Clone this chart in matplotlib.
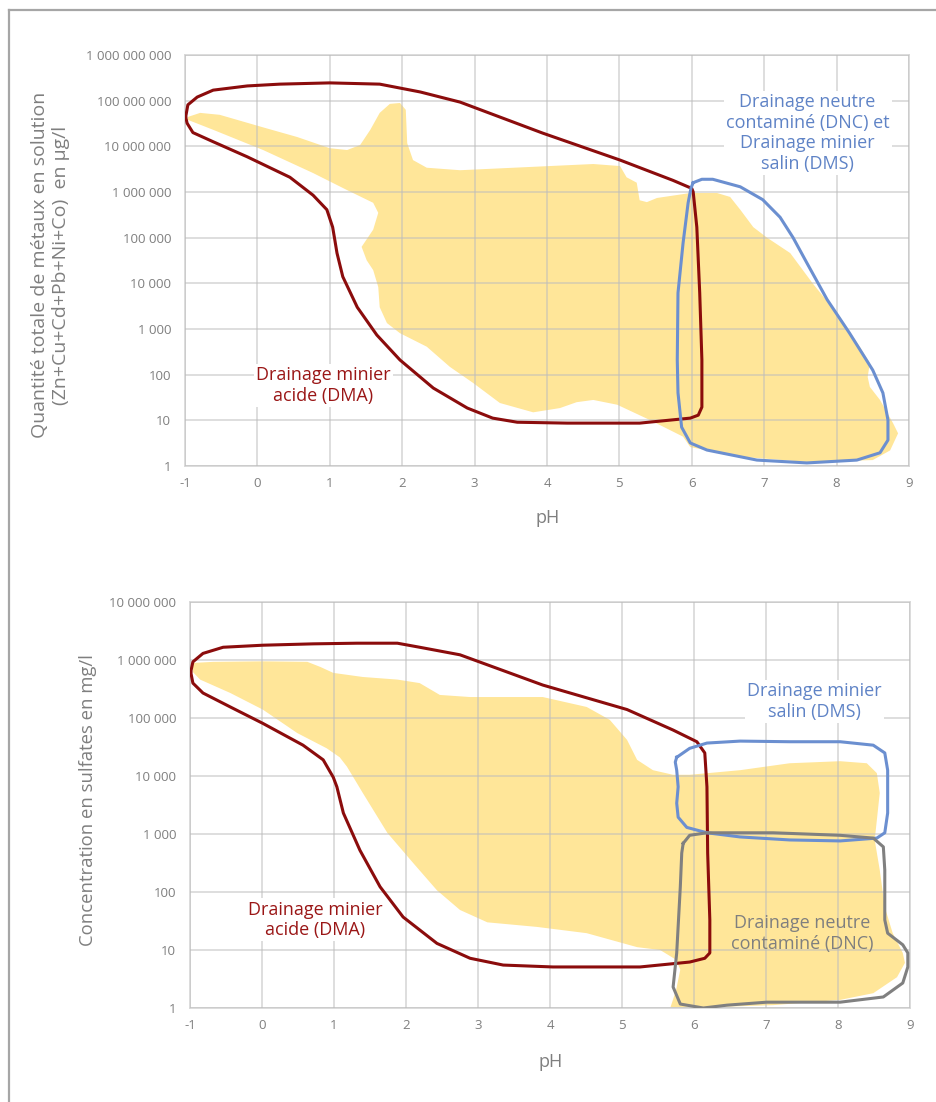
import matplotlib
matplotlib.use("Agg")
import matplotlib.pyplot as plt
from matplotlib.ticker import FixedLocator, FuncFormatter
from matplotlib.lines import Line2D

plt.rcParams['font.family'] = ['Open Sans', 'DejaVu Sans']
plt.rcParams['axes.unicode_minus'] = False

# ---------- panneau du haut : métaux (µg/l) ----------
top_yellow_ph = [-0.96, -0.79, -0.52, 0.08, 0.55, 1.00, 1.24, 1.42, 1.56, 1.69, 1.83, 1.97,
                 2.05, 2.07, 2.15, 2.34, 2.80, 4.64, 5.01, 5.10, 5.24, 5.28, 5.38, 5.52,
                 5.98, 6.35, 6.53, 6.67, 6.85, 7.04, 7.36, 7.67, 8.05, 8.32, 8.46, 8.43,
                 8.46, 8.60, 8.78, 8.85, 8.74, 8.50, 7.59, 6.67, 5.98, 5.88, 5.42, 4.97,
                 4.64, 4.41, 4.18, 3.81, 3.35, 2.98, 2.66, 2.34, 1.97, 1.79, 1.69, 1.67,
                 1.60, 1.51, 1.44, 1.60, 1.67, 1.60, 1.24, 0.77, 0.08, -0.61, -0.96]
top_yellow_val = [4.4e7, 5.4e7, 4.9e7, 2.6e7, 1.6e7, 9.1e6, 8.3e6, 1.07e7, 2.3e7, 5.4e7, 8.5e7, 8.9e7,
                  6.3e7, 1.17e7, 5.0e6, 3.4e6, 3.0e6, 4.1e6, 3.7e6, 2.1e6, 1.6e6, 6.6e5, 6.0e5, 7.4e5,
                  9.5e5, 9.5e5, 7.8e5, 4.1e5, 1.7e5, 1.0e5, 4.6e4, 1.0e4, 1.8e3, 410, 180, 89,
                  54, 28, 8.7, 5.2, 2.2, 1.35, 1.23, 1.6, 2.6, 4.4, 10.2, 22,
                  28, 25, 18.6, 15, 24, 66, 148, 410, 810, 1.35e3, 3.0e3, 8.3e3,
                  1.95e4, 3.2e4, 6.3e4, 1.5e5, 3.5e5, 5.8e5, 1.1e6, 2.6e6, 8.3e6, 2.3e7, 3.8e7]

top_dma_ph = [-0.99, -0.96, -0.83, -0.61, -0.14, 0.31, 1.00, 1.69, 2.25, 2.80, 3.94, 5.01,
              5.74, 6.00, 6.02, 6.07, 6.11, 6.14, 6.14, 6.09, 5.98, 5.28, 4.28, 3.59,
              3.25, 2.90, 2.43, 1.97, 1.65, 1.38, 1.18, 1.10, 1.07, 1.04, 0.96, 0.77,
              0.45, -0.14, -0.61, -0.89, -0.97]
top_dma_val = [4.4e7, 8.1e7, 1.2e8, 1.7e8, 2.1e8, 2.3e8, 2.45e8, 2.3e8, 1.55e8, 9.3e7, 1.95e7, 5.0e6,
               1.8e6, 1.2e6, 1.0e6, 1.7e5, 6.2e3, 210, 19.5, 13, 11.2, 8.7, 8.7, 9.1,
               11.2, 18.6, 51, 210, 740, 3.0e3, 1.4e4, 4.6e4, 8.9e4, 1.7e5, 4.1e5, 8.5e5,
               2.1e6, 5.9e6, 1.26e7, 2.0e7, 3.2e7]

top_dnc_ph = [6.02, 6.14, 6.29, 6.67, 6.98, 7.22, 7.40, 7.59, 7.87, 8.18, 8.50, 8.64,
              8.71, 8.71, 8.60, 8.28, 7.59, 6.90, 6.21, 5.98, 5.86, 5.81, 5.80, 5.81,
              5.88, 5.95, 5.99]
top_dnc_val = [1.6e6, 1.9e6, 1.9e6, 1.3e6, 6.8e5, 2.8e5, 1.0e5, 2.8e4, 4.4e3, 810, 126, 40,
               10.2, 3.7, 1.95, 1.35, 1.17, 1.35, 2.24, 3.2, 7.1, 40, 210, 6.2e3,
               7.6e4, 5.8e5, 1.23e6]

# ---------- panneau du bas : sulfates (mg/l) ----------
bot_yellow_ph = [-0.96, -0.68, 0.01, 0.63, 0.81, 0.99, 1.40, 1.88, 2.19, 2.47, 2.89, 3.90,
                 4.51, 4.83, 5.07, 5.21, 5.43, 5.71, 5.94, 6.64, 7.33, 8.03, 8.40, 8.54,
                 8.58, 8.54, 8.51, 8.58, 8.65, 8.76, 8.90, 8.93, 8.82, 8.49, 8.03, 7.10,
                 6.40, 6.00, 5.67, 5.75, 5.81, 5.75, 5.53, 5.21, 4.51, 3.82, 3.13, 2.75,
                 2.43, 2.10, 1.74, 1.40, 1.18, 1.08, 0.90, 0.49, 0.01, -0.44, -0.86, -0.96]
bot_yellow_val = [8.9e5, 9.3e5, 9.5e5, 9.3e5, 7.6e5, 6.0e5, 5.1e5, 4.6e5, 4.0e5, 2.5e5, 2.3e5, 2.3e5,
                  1.55e5, 9.3e4, 4.2e4, 1.9e4, 1.26e4, 1.05e4, 1.05e4, 1.26e4, 1.66e4, 1.8e4, 1.66e4, 1.12e4,
                  5.1e3, 1.74e3, 790, 240, 55, 19.5, 8.9, 6.0, 3.4, 1.8, 1.38, 1.12,
                  1.05, 1.0, 1.0, 2.0, 4.6, 6.8, 10, 11.2, 19.5, 25, 30, 49,
                  107, 316, 1.05e3, 5.1e3, 1.45e4, 2.1e4, 3.0e4, 5.5e4, 1.4e5, 2.7e5, 4.6e5, 6.2e5]

bot_dma_ph = [-0.99, -0.96, -0.82, -0.54, 0.01, 0.71, 1.32, 1.88, 2.19, 2.75, 3.90, 5.07,
              5.71, 6.04, 6.15, 6.18, 6.19, 6.22, 6.22, 6.15, 5.94, 5.25, 4.04, 3.35,
              2.89, 2.43, 1.96, 1.64, 1.36, 1.13, 1.04, 0.99, 0.85, 0.57, 0.01, -0.44,
              -0.82, -0.96]
bot_dma_val = [6.2e5, 9.3e5, 1.3e6, 1.66e6, 1.8e6, 1.9e6, 1.95e6, 1.95e6, 1.66e6, 1.23e6, 3.7e5, 1.4e5,
               6.2e4, 3.9e4, 2.5e4, 6.5e3, 470, 33, 8.9, 7.2, 6.2, 5.1, 5.1, 5.5,
               7.2, 13, 37, 123, 525, 2.3e3, 6.5e3, 9.5e3, 1.9e4, 3.4e4, 8.1e4, 1.55e5,
               2.7e5, 4.0e5]

bot_dms_ph = [5.76, 5.94, 6.18, 6.64, 7.33, 8.03, 8.49, 8.65, 8.69, 8.69, 8.65, 8.54,
              8.03, 7.33, 6.64, 6.18, 5.90, 5.78, 5.76, 5.78, 5.76, 5.74]
bot_dms_val = [2.1e4, 3.0e4, 3.7e4, 4.0e4, 3.9e4, 3.9e4, 3.4e4, 2.5e4, 1.26e4, 2.3e3, 1.05e3, 850,
               760, 790, 890, 1.05e3, 1.3e3, 1.95e3, 3.4e3, 6.5e3, 1.26e4, 1.74e4]

bot_dnc_ph = [5.85, 5.94, 6.18, 7.10, 8.03, 8.49, 8.63, 8.65, 8.65, 8.69, 8.90, 8.97,
              8.97, 8.90, 8.63, 8.03, 7.01, 6.46, 6.13, 5.81, 5.71, 5.76, 5.81, 5.83]
bot_dnc_val = [690, 950, 1.05e3, 1.05e3, 950, 850, 600, 240, 33, 19.5, 12.3, 8.9,
               5.1, 2.7, 1.55, 1.26, 1.26, 1.12, 1.0, 1.17, 2.3, 8.9, 123, 470]

x_ticks = list(range(-1, 10))
top_y_ticks = [1, 10, 100, 1e3, 1e4, 1e5, 1e6, 1e7, 1e8, 1e9]
bot_y_ticks = [1, 10, 100, 1e3, 1e4, 1e5, 1e6, 1e7]

YELLOW = '#ffe699'
RED = '#8b0c0c'
BLUE = '#6b8fd0'
GREY = '#808080'
TXT = '#7f7f7f'


def closed(a):
    return list(a) + [a[0]]


def fmt(v, pos):
    return f"{int(round(v)):,}".replace(",", " ")


def style_axes(ax, yticks):
    ax.set_yscale('log')
    ax.set_xlim(-1, 9)
    ax.set_ylim(yticks[0], yticks[-1])
    ax.xaxis.set_major_locator(FixedLocator(x_ticks))
    ax.yaxis.set_major_locator(FixedLocator(yticks))
    ax.yaxis.set_minor_locator(FixedLocator([]))
    ax.yaxis.set_major_formatter(FuncFormatter(fmt))
    ax.set_axisbelow(False)
    ax.grid(True, color='#bdbdbd', alpha=0.55, lw=1.3, zorder=2)
    for s in ax.spines.values():
        s.set_color('#d9d9d9')
        s.set_linewidth(1.3)
    ax.tick_params(length=0, colors=TXT, labelsize=9.5)
    ax.tick_params(axis='y', pad=10)
    ax.tick_params(axis='x', pad=8)


fig = plt.figure(figsize=(9.36, 11.02), dpi=100)
ax1 = fig.add_axes([0.1976, 0.5771, 0.7735, 0.3730])
ax2 = fig.add_axes([0.2030, 0.0853, 0.7692, 0.3684])

box = dict(facecolor='white', edgecolor='none', pad=1.5)
lkw = dict(lw=2.2, zorder=3, solid_joinstyle='round')
tkw = dict(fontsize=13, ha='center', va='center', linespacing=1.2, zorder=4)

# haut
style_axes(ax1, top_y_ticks)
ax1.fill(top_yellow_ph, top_yellow_val, color=YELLOW, lw=0, zorder=1)
ax1.plot(closed(top_dma_ph), closed(top_dma_val), color=RED, **lkw)
ax1.plot(closed(top_dnc_ph), closed(top_dnc_val), color=BLUE, **lkw)
ax1.text(0.91, 59, "Drainage minier\nacide (DMA)", color='#9a1616', bbox=box, **tkw)
ax1.text(7.6, 1.95e7, "Drainage neutre\ncontaminé (DNC) et\nDrainage minier\nsalin (DMS)",
         color='#5f83c6', bbox=box, **tkw)
ax1.text(-0.186, 0.489, "Quantité totale de métaux en solution\n(Zn+Cu+Cd+Pb+Ni+Co)  en µg/l",
         transform=ax1.transAxes, rotation=90, ha='center', va='center',
         color=TXT, fontsize=14, linespacing=1.2)
ax1.text(0.501, -0.127, "pH", transform=ax1.transAxes, ha='center', va='center',
         color=TXT, fontsize=13)

# bas
style_axes(ax2, bot_y_ticks)
ax2.fill(bot_yellow_ph, bot_yellow_val, color=YELLOW, lw=0, zorder=1)
ax2.plot(closed(bot_dma_ph), closed(bot_dma_val), color=RED, **lkw)
ax2.plot(closed(bot_dms_ph), closed(bot_dms_val), color=BLUE, **lkw)
ax2.plot(closed(bot_dnc_ph), closed(bot_dnc_val), color=GREY, **lkw)
ax2.text(0.74, 33, "Drainage minier\nacide (DMA)", color='#9a1616', bbox=box, **tkw)
ax2.text(7.67, 1.9e5, "Drainage minier\nsalin (DMS)", color='#5f83c6', bbox=box, **tkw)
ax2.text(7.5, 19.5, "Drainage neutre\ncontaminé (DNC)", color=TXT, **tkw)
ax2.text(-0.142, 0.512, "Concentration en sulfates en mg/l", transform=ax2.transAxes,
         rotation=90, ha='center', va='center', color=TXT, fontsize=13.3)
ax2.text(0.501, -0.133, "pH", transform=ax2.transAxes, ha='center', va='center',
         color=TXT, fontsize=13)

# cadre extérieur
fig.add_artist(Line2D([9 / 936, 1.0], [1 - 10 / 1102, 1 - 10 / 1102],
                      color='#a6a6a6', lw=1.6, transform=fig.transFigure))
fig.add_artist(Line2D([9 / 936, 9 / 936], [0.0, 1 - 10 / 1102],
                      color='#a6a6a6', lw=1.6, transform=fig.transFigure))

fig.savefig("out.png", dpi=100, facecolor='white')
